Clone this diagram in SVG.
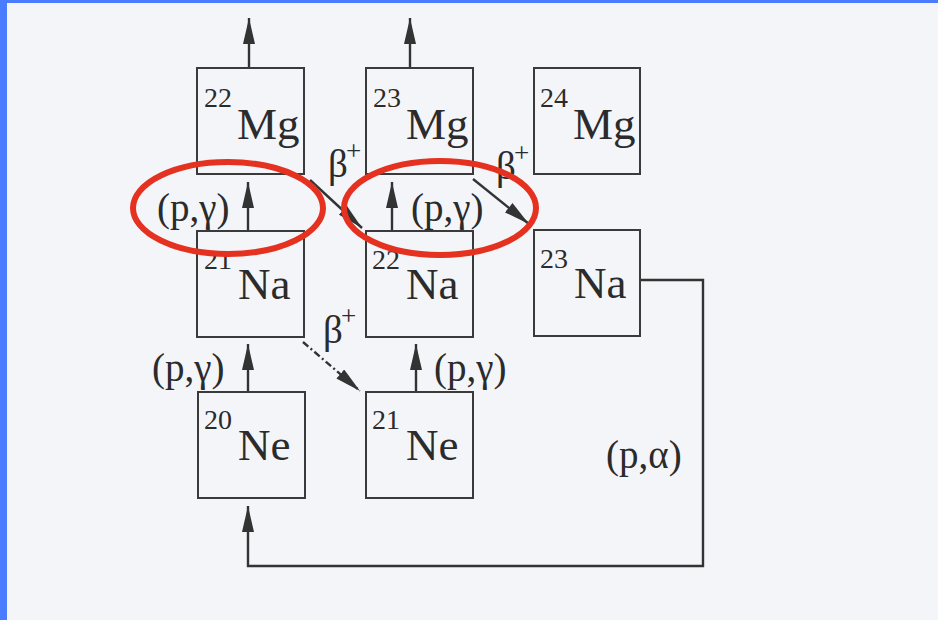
<svg xmlns="http://www.w3.org/2000/svg" width="938" height="620" viewBox="0 0 938 620">
<style>
.box{fill:none;stroke:#3a3a3a;stroke-width:2}
.el{font-family:"Liberation Serif","Times New Roman",serif;font-size:45px;fill:#2b2b2b}
.sup{font-family:"Liberation Serif","Times New Roman",serif;font-size:28px;fill:#2b2b2b}
.lbl{font-family:"Liberation Serif","Times New Roman",serif;font-size:39px;fill:#2b2b2b}
.bsup{font-family:"Liberation Serif","Times New Roman",serif;font-size:27px;fill:#2b2b2b}
.ln{fill:none;stroke:#333;stroke-width:2.4}
.dash{stroke-dasharray:7 3 2 3}
.ring{fill:none;stroke:#e5311f;stroke-width:6}
</style>
<defs>
<marker id="ah" viewBox="0 0 26 12" refX="26" refY="6" markerWidth="26" markerHeight="12" markerUnits="userSpaceOnUse" orient="auto">
<path d="M0,0 L26,6 L0,12 Z" fill="#333"/>
</marker>
</defs>
<rect x="0" y="0" width="938" height="620" fill="#f4f5f9"/>
<rect x="0" y="0" width="938" height="3" fill="#4a7cff"/>
<rect x="0" y="0" width="7" height="620" fill="#4a7cff"/>

<g id="connectors">
<line class="ln" x1="249" y1="68" x2="249" y2="18" marker-end="url(#ah)"/>
<line class="ln" x1="410" y1="68" x2="410" y2="18" marker-end="url(#ah)"/>
<line class="ln" x1="248" y1="231" x2="248" y2="182" marker-end="url(#ah)"/>
<line class="ln" x1="392" y1="231" x2="392" y2="182" marker-end="url(#ah)"/>
<line class="ln" x1="248" y1="392" x2="248" y2="344" marker-end="url(#ah)"/>
<line class="ln" x1="416" y1="392" x2="416" y2="344" marker-end="url(#ah)"/>
<line class="ln" x1="310" y1="180" x2="362" y2="228" marker-end="url(#ah)"/>
<line class="ln" x1="473" y1="179" x2="529" y2="224" marker-end="url(#ah)"/>
<line class="ln dash" x1="303" y1="342" x2="360" y2="391" marker-end="url(#ah)"/>
<polyline class="ln" points="640,280 703,280 703,566 248,566 248,506" marker-end="url(#ah)"/>
<text class="lbl" x="157" y="221">(p,γ)</text>
<text class="lbl" x="411" y="221">(p,γ)</text>
<text class="lbl" x="152" y="381">(p,γ)</text>
<text class="lbl" x="434" y="381">(p,γ)</text>
<text class="lbl" x="606" y="468">(p,α)</text>
<text class="lbl" x="328" y="177">β</text><text class="bsup" x="346" y="160">+</text>
<text class="lbl" x="496" y="179">β</text><text class="bsup" x="514" y="162">+</text>
<text class="lbl" x="323" y="343">β</text><text class="bsup" x="341" y="325">+</text>
</g>

<g id="Mg22"><rect class="box" x="197" y="68" width="107" height="106"/><text class="sup" x="204" y="107">22</text><text class="el" x="237" y="139">Mg</text></g>
<g id="Mg23"><rect class="box" x="366" y="68" width="107" height="106"/><text class="sup" x="373" y="107">23</text><text class="el" x="406" y="139">Mg</text></g>
<g id="Mg24"><rect class="box" x="534" y="68" width="106" height="106"/><text class="sup" x="540" y="107">24</text><text class="el" x="573" y="139">Mg</text></g>
<g id="Na21"><rect class="box" x="197" y="231" width="107" height="106"/><text class="sup" x="204" y="269">21</text><text class="el" x="238" y="299">Na</text></g>
<g id="Na22"><rect class="box" x="366" y="231" width="107" height="106"/><text class="sup" x="372" y="269">22</text><text class="el" x="406" y="299">Na</text></g>
<g id="Na23"><rect class="box" x="534" y="230" width="106" height="106"/><text class="sup" x="540" y="268">23</text><text class="el" x="574" y="298">Na</text></g>
<g id="Ne20"><rect class="box" x="198" y="392" width="107" height="106"/><text class="sup" x="204" y="429">20</text><text class="el" x="238" y="460">Ne</text></g>
<g id="Ne21"><rect class="box" x="366" y="392" width="107" height="106"/><text class="sup" x="372" y="429">21</text><text class="el" x="406" y="460">Ne</text></g>

<g id="highlights">
<ellipse class="ring" cx="228" cy="208" rx="95" ry="46"/>
<ellipse class="ring" cx="440" cy="208" rx="96" ry="47"/>
</g>
</svg>
